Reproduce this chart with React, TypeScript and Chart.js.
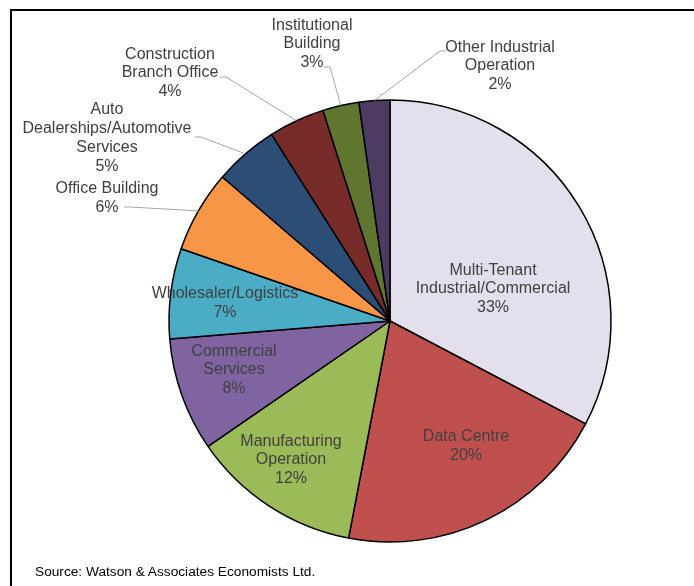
import React, { useEffect, useRef } from "react";
import { Chart, registerables } from "chart.js";

Chart.register(...registerables);

// ---- data ----
const categories = [
  "Multi-Tenant\nIndustrial/Commercial",
  "Data Centre",
  "Manufacturing\nOperation",
  "Commercial\nServices",
  "Wholesaler/Logistics",
  "Office Building",
  "Auto\nDealerships/Automotive\nServices",
  "Construction\nBranch Office",
  "Institutional\nBuilding",
  "Other Industrial\nOperation",
];
const shares = [32.7, 20.3, 12.4, 8.3, 6.6, 6.0, 4.7, 4.1, 2.65, 2.25];
const sourceNote = "Source: Watson & Associates Economists Ltd.";

// ---- styles / layout ----
const colors = [
  "#E4DFEC",
  "#C0504D",
  "#9BBB59",
  "#8064A2",
  "#4BACC6",
  "#F79646",
  "#2C4D75",
  "#772C2A",
  "#5F7530",
  "#4D3B62",
];
// label block centre, relative to pie centre (design radius 221)
const labelOffsets: [number, number][] = [
  [103, -32],
  [76, 125],
  [-99, 139],
  [-156, 49],
  [-165, -18],
  [-283, -123],
  [-283, -183],
  [-220, -248],
  [-78, -277],
  [110, -255],
];
// leader line start (relative to pie centre) and elbow direction, null = inside label
const leaderStarts: ([number, number, number] | null)[] = [
  null,
  null,
  null,
  null,
  null,
  [-266, -114, 1],
  [-195, -184, 1],
  [-170, -244, 1],
  [-66, -254, 1],
  [56, -270, -1],
];
const DESIGN_R = 221;
const FONT = '16px "Liberation Sans", Arial, sans-serif';
const TEXT_COLOR = "#404040";
const LINE_H = 18.8;

const labelPlugin = {
  id: "pieLabels",
  beforeDraw(chart: any) {
    const ctx = chart.ctx;
    ctx.save();
    ctx.fillStyle = "#000";
    ctx.fillRect(10, 9, chart.width, 2);
    ctx.fillRect(10, 9, 2, chart.height);
    ctx.restore();
  },
  afterDatasetsDraw(chart: any) {
    const ctx = chart.ctx;
    const meta = chart.getDatasetMeta(0);
    const data = chart.data.datasets[0].data as number[];
    const total = data.reduce((a, b) => a + b, 0);
    ctx.save();
    ctx.font = FONT;
    ctx.fillStyle = TEXT_COLOR;
    ctx.textAlign = "center";
    ctx.textBaseline = "middle";
    meta.data.forEach((arc: any, i: number) => {
      const { x, y, startAngle, endAngle, outerRadius } = arc.getProps(
        ["x", "y", "startAngle", "endAngle", "outerRadius"],
        true
      );
      const s = outerRadius / DESIGN_R;
      const lx = x + labelOffsets[i][0] * s;
      const ly = y + labelOffsets[i][1] * s;
      const lines = categories[i].split("\n");
      lines.push(Math.round((data[i] / total) * 100) + "%");
      const n = lines.length;
      lines.forEach((t, k) => {
        ctx.fillText(t, lx, ly + (k - (n - 1) / 2) * LINE_H);
      });
      const ls = leaderStarts[i];
      if (ls) {
        const mid = (startAngle + endAngle) / 2;
        const ex = x + Math.cos(mid) * outerRadius;
        const ey = y + Math.sin(mid) * outerRadius;
        const sx = x + ls[0] * s;
        const sy = y + ls[1] * s;
        ctx.beginPath();
        ctx.strokeStyle = "#A6A6A6";
        ctx.lineWidth = 1;
        ctx.moveTo(sx, sy);
        ctx.lineTo(sx + ls[2] * 6, sy);
        ctx.lineTo(ex, ey);
        ctx.stroke();
      }
    });
    ctx.restore();
  },
};

export default function App() {
  const ref = useRef<HTMLCanvasElement>(null);
  useEffect(() => {
    if (!ref.current) return;
    const chart = new Chart(ref.current, {
      type: "pie",
      data: {
        labels: categories.map((c) => c.replace(/\n/g, " ")),
        datasets: [
          {
            data: shares,
            backgroundColor: colors,
            borderColor: "#000000",
            borderWidth: 1.5,
          },
        ],
      },
      options: {
        responsive: false,
        animation: false,
        devicePixelRatio: 1,
        events: [],
        radius: 221,
        layout: { padding: { left: 169, right: 83, top: 100, bottom: 44 } },
        plugins: {
          legend: { display: false },
          tooltip: { enabled: false },
        },
      } as any,
      plugins: [labelPlugin],
    });
    return () => chart.destroy();
  }, []);
  return (
    <div style={{ position: "absolute", left: 0, top: 0, width: 694, height: 586, background: "#fff" }}>
      <canvas ref={ref} width={694} height={586} style={{ display: "block" }} />
      <div
        style={{
          position: "absolute",
          left: 35,
          top: 564,
          fontFamily: '"Liberation Sans", Arial, sans-serif',
          fontSize: 13.7,
          lineHeight: "16px",
          color: "#000",
          whiteSpace: "nowrap",
        }}
      >
        {sourceNote}
      </div>
    </div>
  );
}
